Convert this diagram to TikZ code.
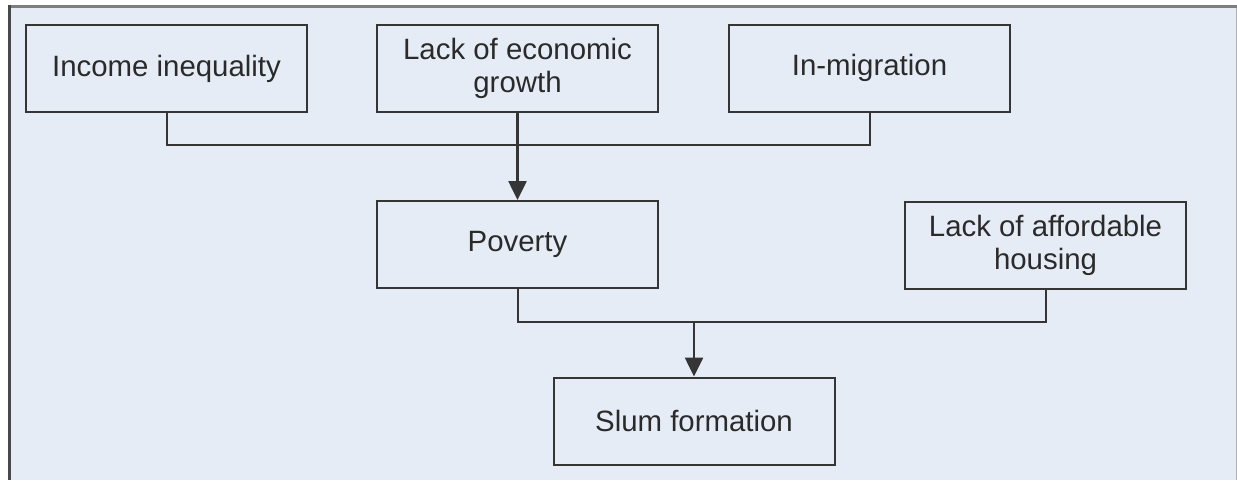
\documentclass[tikz,border=0pt]{standalone}
\usepackage{fontspec}
\setmainfont{Liberation Sans}
\usetikzlibrary{arrows.meta}
\definecolor{SlumPaper}{HTML}{E6ECF6}
\definecolor{SlumInk}{HTML}{2A2A2A}
\definecolor{SlumEdge}{HTML}{353535}
\definecolor{SlumFrame}{HTML}{7E7E7E}

\begin{document}
\begin{tikzpicture}[
    x=1pt,y=-1pt,
    causebox/.style={
      draw=SlumEdge,
      line width=2pt,
      minimum width=281pt,
      minimum height=87pt,
      align=center,
      text=SlumInk,
      font=\fontsize{29.4}{33}\selectfont
    },
    link/.style={draw=SlumEdge,line width=2pt},
    arrowlink/.style={link,line width=2.6pt,-{Triangle[length=19pt,width=18pt]}}
  ]
    \useasboundingbox (0,0) rectangle (1237,480);

    % frame
    \fill[SlumPaper] (9,6) rectangle (1237,480);
    \draw[SlumFrame!60,line width=1pt] (1236,6) -- (1236,480);
    \draw[SlumFrame,line width=3pt] (8,6) -- (1237,6);
    \draw[SlumEdge!90,line width=3pt] (9,4.5) -- (9,480);

    % causes
    \node[causebox] (inc)   at (166.5,68.5) {Income inequality};
    \node[causebox] (grow)  at (517.5,68)   {Lack of economic\\growth};
    \node[causebox] (mig)   at (869.5,68)   {In-migration};
    \node[causebox] (pov)   at (517.5,244.5) {Poverty};
    \node[causebox] (house) at (1045.5,245) {Lack of affordable\\housing};
    \node[causebox] (slum)  at (694,421)    {Slum formation};

    % connectors
    \coordinate (topbus) at (517.5,145);
    \coordinate (lowbus) at (694,322);
    \draw[link] (inc.south) |- (topbus) -| (mig.south);
    \draw[arrowlink] (grow.south) -- (pov.north);
    \draw[link] (pov.south) |- (lowbus) -| (house.south);
    \draw[arrowlink] (lowbus) -- (slum.north);
\end{tikzpicture}
\end{document}
